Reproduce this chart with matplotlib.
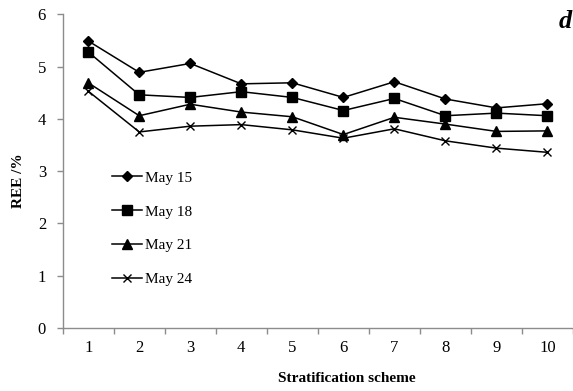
import numpy as np
import matplotlib
matplotlib.use("Agg")
import matplotlib.pyplot as plt

plt.rcParams["font.family"] = ["Liberation Serif", "DejaVu Serif"]

# Data
schemes = ["1", "2", "3", "4", "5", "6", "7", "8", "9", "10"]
may15 = [5.49, 4.89, 5.06, 4.67, 4.69, 4.41, 4.71, 4.38, 4.21, 4.29]
may18 = [5.28, 4.46, 4.41, 4.52, 4.41, 4.16, 4.39, 4.06, 4.11, 4.06]
may21 = [4.69, 4.06, 4.28, 4.13, 4.04, 3.70, 4.03, 3.90, 3.76, 3.77]
may24 = [4.53, 3.75, 3.86, 3.89, 3.79, 3.63, 3.81, 3.58, 3.44, 3.36]
labels = ["May 15", "May 18", "May 21", "May 24"]

fig = plt.figure(figsize=(5.73, 3.91), dpi=100)
ax = fig.add_axes([62.7 / 573, 1 - 328 / 391, 1 - 62.7 / 573, (328 - 14.3) / 391])

x = np.arange(len(schemes))
ax.plot(x, may15, color="black", lw=1.1, marker="D", ms=5.5, label=labels[0])
ax.plot(x, may18, color="black", lw=1.1, marker="s", ms=6.5, label=labels[1])
ax.plot(x, may21, color="black", lw=1.1, marker="^", ms=7, label=labels[2])
ax.plot(x, may24, color="black", lw=1.1, marker="x", ms=6, mew=1.0, label=labels[3])

ax.set_xlim(-0.5, len(schemes) - 0.5)
ax.set_ylim(0, 6)
ax.set_yticks(range(0, 7))

# category axis: ticks between categories, labels at centres
ax.set_xticks(np.arange(-0.5, len(schemes), 1.0))
ax.set_xticklabels([])
ax.set_xticks(x, minor=True)
ax.set_xticklabels(schemes, minor=True)
ax.tick_params(axis="x", which="minor", length=0, pad=9, labelsize=12)
ax.tick_params(axis="x", which="major", length=4, color="#8c8c8c", width=1, direction="out")
ax.tick_params(axis="y", length=4, color="#8c8c8c", width=1, direction="out", labelsize=12, pad=8)

for s in ["top", "right"]:
    ax.spines[s].set_visible(False)
for s in ["left", "bottom"]:
    ax.spines[s].set_color("#8c8c8c")
    ax.spines[s].set_linewidth(1)

ax.set_xlabel("Stratification scheme", fontsize=11, fontweight="bold")
ax.xaxis.set_label_coords(0.557, -0.14)
ax.set_ylabel("REE /%", fontsize=11, fontweight="bold")
ax.yaxis.set_label_coords(-0.073, 0.47)

fig.text(565.7 / 573, 1 - 21.7 / 391, "d", fontsize=19, fontweight="bold",
         fontstyle="italic", ha="center", va="center")

ax.legend(loc="upper left", bbox_to_anchor=(111.7 / 573, 1 - 171 / 391),
          bbox_transform=fig.transFigure, frameon=False, fontsize=11,
          handlelength=2.0, handletextpad=0.15, labelspacing=1.32,
          borderpad=0, borderaxespad=0)

fig.savefig("out.png", dpi=100)
